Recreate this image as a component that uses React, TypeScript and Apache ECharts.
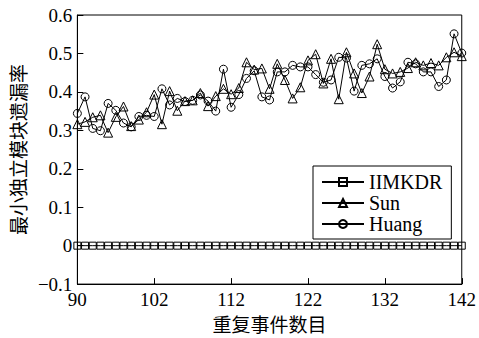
import React, { useEffect, useRef } from "react";
import * as echarts from "echarts";

const xValues = [
  92, 93, 94, 95, 96, 97, 98, 99, 100, 101, 102, 103, 104, 105, 106, 107, 108,
  109, 110, 111, 112, 113, 114, 115, 116, 117, 118, 119, 120, 121, 122, 123,
  124, 125, 126, 127, 128, 129, 130, 131, 132, 133, 134, 135, 136, 137, 138,
  139, 140, 141, 142,
];

const iimkdr = [
  0, 0, 0, 0, 0, 0, 0, 0, 0, 0, 0, 0, 0, 0, 0, 0, 0, 0, 0, 0, 0, 0, 0, 0, 0,
  0, 0, 0, 0, 0, 0, 0, 0, 0, 0, 0, 0, 0, 0, 0, 0, 0, 0, 0, 0, 0, 0, 0, 0, 0, 0,
];

const sun = [
  0.316, 0.322, 0.334, 0.339, 0.294, 0.335, 0.362, 0.311, 0.328, 0.347, 0.393,
  0.316, 0.402, 0.351, 0.376, 0.378, 0.397, 0.363, 0.389, 0.408, 0.394, 0.41,
  0.477, 0.458, 0.461, 0.408, 0.473, 0.431, 0.383, 0.412, 0.482, 0.498, 0.422,
  0.486, 0.381, 0.503, 0.448, 0.397, 0.44, 0.524, 0.459, 0.448, 0.452, 0.462,
  0.477, 0.469, 0.475, 0.469, 0.49, 0.503, 0.493,
];

const huang = [
  0.344, 0.387, 0.305, 0.299, 0.37, 0.352, 0.319, 0.309, 0.336, 0.339, 0.336,
  0.408, 0.366, 0.383, 0.375, 0.378, 0.392, 0.376, 0.35, 0.459, 0.36, 0.393,
  0.435, 0.455, 0.387, 0.379, 0.452, 0.452, 0.469, 0.465, 0.465, 0.445, 0.425,
  0.431, 0.49, 0.488, 0.402, 0.469, 0.473, 0.486, 0.44, 0.41, 0.426, 0.477,
  0.473, 0.452, 0.452, 0.414, 0.431, 0.551, 0.501,
];

const xTickValues = [92, 102, 112, 122, 132, 142];
const xTickLabels = ["90", "102", "112", "122", "132", "142"];
const yTickValues = [-0.1, 0, 0.1, 0.2, 0.3, 0.4, 0.5, 0.6];
const yTickLabels = ["−0.1", "0", "0.1", "0.2", "0.3", "0.4", "0.5", "0.6"];

const seriesNames = ["IIMKDR", "Sun", "Huang"];
const xName = "重复事件数目";
const yName = "最小独立模块遗漏率";

const SERIF = "Liberation Serif";
const CJK = "Noto Sans CJK SC";

export default function App() {
  const ref = useRef<HTMLDivElement>(null);

  useEffect(() => {
    if (!ref.current) return;
    const chart = echarts.init(ref.current, undefined, { renderer: "svg" });

    const pair = (ys: number[]) => xValues.map((x, i) => [x, ys[i]]);

    const mkSeries = (name: string, data: number[], symbol: string, size: number) => ({
      name,
      type: "line",
      data: pair(data),
      symbol,
      symbolSize: size,
      showSymbol: true,
      lineStyle: { color: "#000", width: 1 },
      itemStyle: { color: "rgba(255,255,255,0)", borderColor: "#000", borderWidth: 1 },
      emphasis: { disabled: true },
    });

    const serifRich = { s: { fontFamily: SERIF, fontSize: 19, color: "#000" } };

    chart.setOption({
      animation: false,
      backgroundColor: "#fff",
      textStyle: { fontFamily: SERIF, color: "#000" },
      grid: {
        left: 67,
        right: 17,
        top: 15,
        bottom: 46,
        show: true,
        borderColor: "#000",
        borderWidth: 1,
        backgroundColor: "transparent",
      },
      legend: {
        orient: "vertical",
        left: 313,
        top: 166,
        data: seriesNames,
        itemWidth: 42,
        itemHeight: 10,
        itemGap: 1,
        padding: [6, 9, 5, 8],
        borderColor: "#000",
        borderWidth: 1,
        backgroundColor: "#fff",
        textStyle: { fontFamily: SERIF, fontSize: 20, color: "#000", lineHeight: 20 },
      },
      xAxis: {
        type: "value",
        min: 92,
        max: 142,
        name: xName,
        nameLocation: "middle",
        nameGap: 26,
        nameTextStyle: { fontFamily: CJK, fontSize: 19, color: "#000" },
        axisLine: { onZero: false, lineStyle: { color: "#000", width: 1 } },
        axisTick: {
          inside: true,
          length: 6,
          customValues: xTickValues,
          lineStyle: { color: "#000" },
        },
        axisLabel: {
          customValues: xTickValues,
          margin: 6,
          fontSize: 19,
          fontFamily: SERIF,
          color: "#000",
          rich: serifRich,
          formatter: (v: number) => {
            const i = xTickValues.indexOf(v);
            return i >= 0 ? "{s|" + xTickLabels[i] + "}" : "";
          },
        },
        splitLine: { show: false },
      },
      yAxis: {
        type: "value",
        min: -0.1,
        max: 0.6,
        interval: 0.1,
        name: yName,
        nameLocation: "middle",
        nameGap: 42,
        nameTextStyle: { fontFamily: CJK, fontSize: 19, color: "#000" },
        axisLine: { show: true, onZero: false, lineStyle: { color: "#000", width: 1 } },
        axisTick: { show: true, inside: true, length: 6, lineStyle: { color: "#000" } },
        axisLabel: {
          margin: 5,
          fontSize: 19,
          fontFamily: SERIF,
          color: "#000",
          rich: serifRich,
          formatter: (v: number) => {
            const i = yTickValues.findIndex((t) => Math.abs(t - v) < 1e-9);
            return i >= 0 ? "{s|" + yTickLabels[i] + "}" : "";
          },
        },
        splitLine: { show: false },
      },
      series: [
        mkSeries(seriesNames[0], iimkdr, "rect", 7),
        mkSeries(seriesNames[1], sun, "triangle", 9),
        mkSeries(seriesNames[2], huang, "circle", 8),
      ],
    });

    return () => chart.dispose();
  }, []);

  return <div ref={ref} style={{ width: 479, height: 338, position: "absolute", left: 0, top: 0 }} />;
}
